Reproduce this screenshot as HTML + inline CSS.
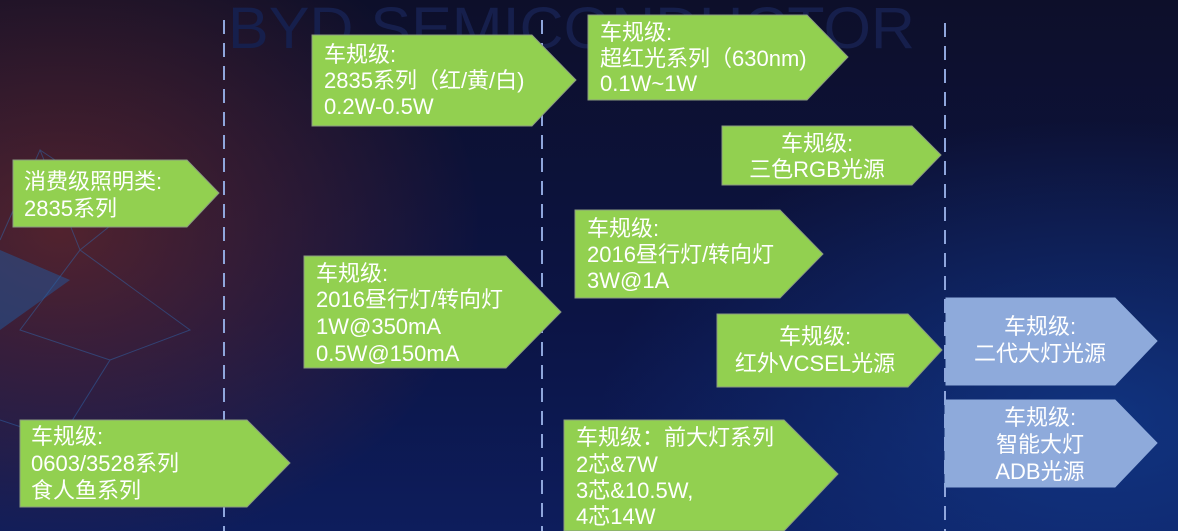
<!DOCTYPE html>
<html><head><meta charset="utf-8">
<style>
html,body{margin:0;padding:0;}
body{width:1178px;height:531px;overflow:hidden;
background:radial-gradient(ellipse 420px 330px at 60px 230px, rgba(150,50,30,0.5), rgba(0,0,0,0) 100%),
radial-gradient(ellipse 500px 300px at 1100px 420px, rgba(20,70,160,0.6), rgba(0,0,0,0) 100%),
linear-gradient(180deg,#0d0f2a 0%,#0c1445 60%,#0d1d5c 100%);}
svg{position:absolute;left:0;top:0;}
text{font-family:"Liberation Sans","Noto Sans CJK SC",sans-serif;font-size:22px;fill:#fff;}
</style></head><body>
<svg width="1178" height="531" viewBox="0 0 1178 531">
<text x="228" y="48" textLength="687" lengthAdjust="spacingAndGlyphs" style="font-size:58px;fill:#161f4c;">BYD SEMICONDUCTOR</text>
<g stroke="#2f6fb8" stroke-width="1" opacity="0.45" fill="none">
<polyline points="0,240 40,150 80,250 20,330 110,360 60,440 0,420"/>
<polyline points="40,150 130,210 80,250 190,330 110,360"/>
</g>
<polygon points="0,250 70,280 0,330" fill="#1e5fa8" opacity="0.45"/>
<g stroke="#8fa6dc" stroke-width="2" stroke-dasharray="14,9">
<line x1="224" y1="20" x2="224" y2="531"/>
<line x1="542" y1="20" x2="542" y2="531"/>
<line x1="945" y1="23" x2="945" y2="531"/>
</g>
<g fill="#92d050" stroke="#8a9a80" stroke-width="1">
<polygon points="13,160 187,160 219,193 187,227 13,227"/>
<polygon points="20,420 247,420 290,463 247,507 20,507"/>
<polygon points="312,35 532,35 576,80 532,126 312,126"/>
<polygon points="304,256 506,256 561,312 506,368 304,368"/>
<polygon points="588,15 807,15 848,57 807,100 588,100"/>
<polygon points="722,126 912,126 941,155 912,185 722,185"/>
<polygon points="575,210 780,210 823,254 780,298 575,298"/>
<polygon points="717,314 908,314 942,350 908,387 717,387"/>
<polygon points="564,420 784,420 838,474 784,531 564,531"/>
</g>
<g fill="#8eaadb" stroke="#8eaadb">
<polygon points="946,298 1115,298 1157,341 1115,385 946,385"/>
<polygon points="945,400 1115,400 1157,443 1115,487 945,487"/>
</g>
<text x="24" y="189">消费级照明类:</text>
<text x="24" y="216">2835系列</text>
<text x="31" y="444">车规级:</text>
<text x="31" y="471">0603/3528系列</text>
<text x="31" y="498">食人鱼系列</text>
<text x="324" y="62">车规级:</text>
<text x="324" y="88">2835系列（红/黄/白)</text>
<text x="324" y="114">0.2W-0.5W</text>
<text x="316" y="281">车规级:</text>
<text x="316" y="307">2016昼行灯/转向灯</text>
<text x="316" y="334">1W@350mA</text>
<text x="316" y="361">0.5W@150mA</text>
<text x="600" y="40">车规级:</text>
<text x="600" y="66">超红光系列（630nm)</text>
<text x="600" y="91">0.1W~1W</text>
<g text-anchor="middle">
<text x="817" y="151">车规级:</text>
<text x="817" y="177">三色RGB光源</text>
<text x="815" y="344">车规级:</text>
<text x="815" y="371">红外VCSEL光源</text>
<text x="1040" y="334">车规级:</text>
<text x="1040" y="361">二代大灯光源</text>
<text x="1040" y="425">车规级:</text>
<text x="1040" y="452">智能大灯</text>
<text x="1040" y="479">ADB光源</text>
</g>
<text x="587" y="236">车规级:</text>
<text x="587" y="262">2016昼行灯/转向灯</text>
<text x="587" y="288">3W@1A</text>
<text x="576" y="445">车规级：前大灯系列</text>
<text x="576" y="472">2芯&amp;7W</text>
<text x="576" y="498">3芯&amp;10.5W,</text>
<text x="576" y="524">4芯14W</text>
</svg>
</body></html>
